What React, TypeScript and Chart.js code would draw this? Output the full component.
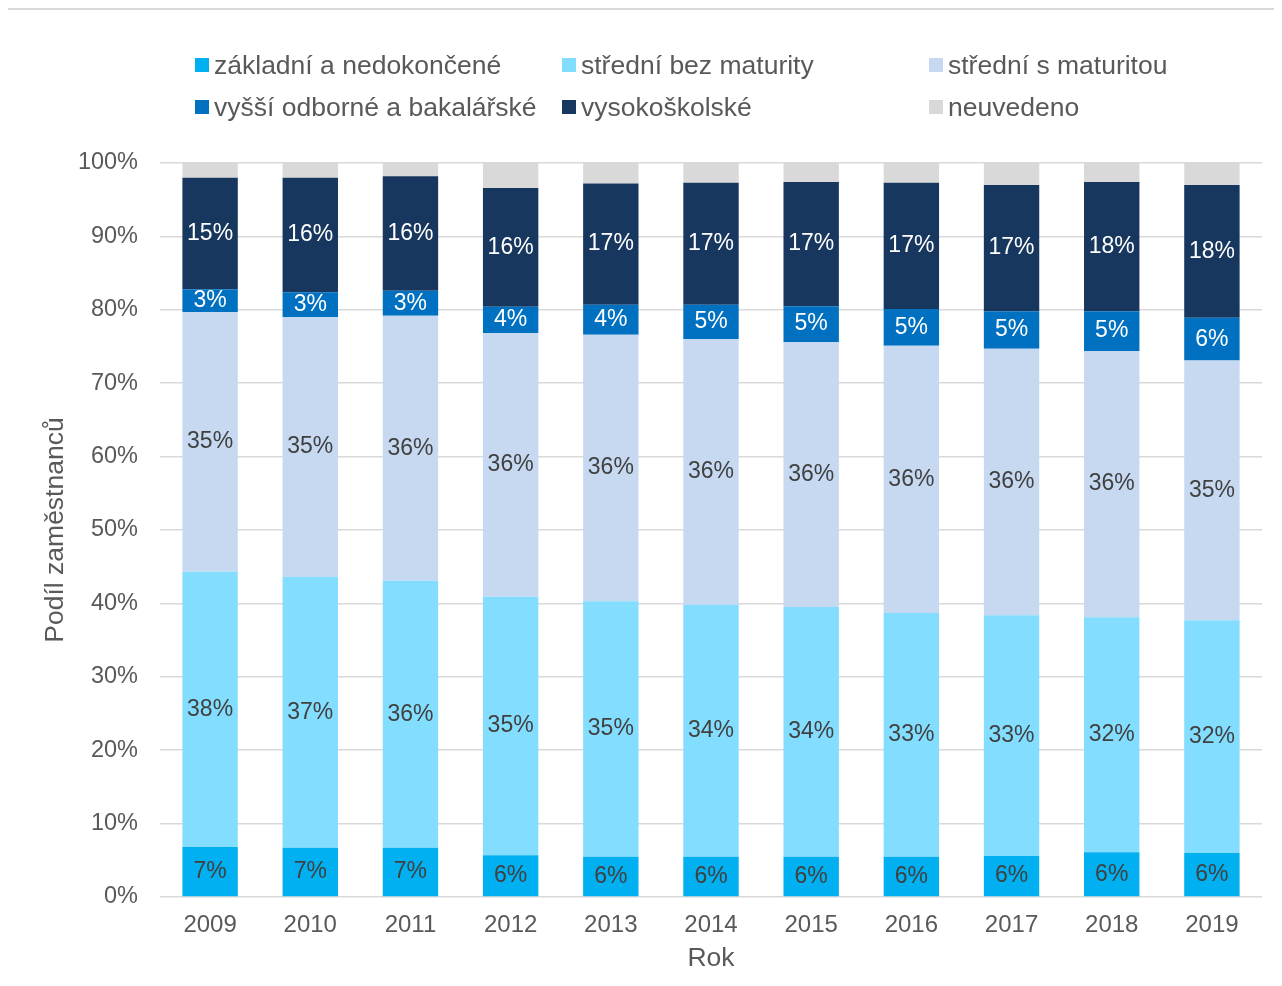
import React, { useEffect, useRef } from 'react';
import { Chart, registerables } from 'chart.js';

Chart.register(...registerables);

const FONT = '"Liberation Sans", Arial, sans-serif';

const years = ['2009', '2010', '2011', '2012', '2013', '2014', '2015', '2016', '2017', '2018', '2019'];
const zakladni = [6.8, 6.7, 6.7, 5.7, 5.5, 5.5, 5.5, 5.5, 5.6, 6.1, 6.0];
const bezMaturity = [37.5, 36.9, 36.4, 35.2, 34.8, 34.3, 34.0, 33.2, 32.8, 32.0, 31.7];
const sMaturitou = [35.4, 35.4, 36.1, 35.9, 36.3, 36.2, 36.1, 36.4, 36.3, 36.3, 35.4];
const vyssiOdborne = [3.1, 3.4, 3.4, 3.6, 4.1, 4.7, 4.9, 5.0, 5.1, 5.4, 5.8];
const vysokoskolske = [15.2, 15.6, 15.6, 16.2, 16.5, 16.6, 16.9, 17.2, 17.2, 17.6, 18.1];
const neuvedeno = [2.0, 2.0, 1.8, 3.4, 2.8, 2.7, 2.6, 2.7, 3.0, 2.6, 3.0];
const yTicks = [0, 10, 20, 30, 40, 50, 60, 70, 80, 90, 100];

const seriesNames = [
  'základní a nedokončené',
  'střední bez maturity',
  'střední s maturitou',
  'vyšší odborné a bakalářské',
  'vysokoškolské',
  'neuvedeno',
];
const seriesColors = ['#00B0F0', '#83DDFF', '#C6D9F1', '#0070C0', '#17375E', '#D9D9D9'];
const labelColors = ['#404040', '#404040', '#404040', '#FFFFFF', '#FFFFFF', null];

const labelPlugin = {
  id: 'segLabels',
  afterDatasetsDraw(chart: any) {
    const ctx = chart.ctx;
    ctx.save();
    ctx.font = `23px ${FONT}`;
    ctx.textAlign = 'center';
    ctx.textBaseline = 'middle';
    chart.data.datasets.forEach((ds: any, i: number) => {
      const col = labelColors[i];
      if (!col) return;
      const meta = chart.getDatasetMeta(i);
      meta.data.forEach((el: any, j: number) => {
        const v = ds.data[j] as number;
        const p = el.getProps(['x', 'y', 'base'], true);
        ctx.fillStyle = col;
        ctx.fillText(Math.round(v) + '%', p.x, (p.y + p.base) / 2);
      });
    });
    ctx.restore();
  },
};

const legendCols = [187, 554, 921];
const legendRows = [55, 97];

export default function App() {
  const ref = useRef<HTMLCanvasElement | null>(null);

  useEffect(() => {
    if (!ref.current) return;
    const dataArrays = [zakladni, bezMaturity, sMaturitou, vyssiOdborne, vysokoskolske, neuvedeno];
    const chart = new Chart(ref.current, {
      type: 'bar',
      data: {
        labels: years,
        datasets: dataArrays.map((d, i) => ({
          label: seriesNames[i],
          data: d,
          backgroundColor: seriesColors[i],
          borderWidth: 0,
          barPercentage: 0.553,
          categoryPercentage: 1,
        })),
      },
      options: {
        responsive: false,
        animation: false,
        devicePixelRatio: 1,
        layout: { padding: { left: 0, right: 14, top: 153, bottom: 0 } },
        plugins: {
          legend: { display: false },
          tooltip: { enabled: false },
        },
        scales: {
          x: {
            stacked: true,
            grid: { display: false, drawTicks: false },
            border: { display: false },
            ticks: { color: '#595959', font: { family: FONT, size: 24 }, padding: 14 },
            title: {
              display: true,
              text: 'Rok',
              color: '#595959',
              font: { family: FONT, size: 26.5 },
              padding: { top: 0, bottom: 1 },
            },
            afterFit: (s: any) => {
              s.height = 79;
            },
          },
          y: {
            stacked: true,
            min: 0,
            max: 100,
            grid: { color: '#D9D9D9', lineWidth: 1.5, drawTicks: false },
            border: { display: false },
            ticks: {
              stepSize: 10,
              color: '#595959',
              font: { family: FONT, size: 23.5 },
              padding: 22,
              callback: (v: any) => (yTicks.includes(Number(v)) ? v + '%' : ''),
            },
            title: {
              display: true,
              text: 'Podíl zaměstnanců',
              color: '#595959',
              font: { family: FONT, size: 26.5 },
              padding: { top: 32, bottom: 0 },
            },
            afterFit: (s: any) => {
              s.width = 152;
            },
          },
        },
      },
      plugins: [labelPlugin],
    });
    return () => chart.destroy();
  }, []);

  const legendItems = seriesNames.map((name, i) => {
    const col = i % 3;
    const row = Math.floor(i / 3);
    return (
      <div
        key={name}
        style={{
          position: 'absolute',
          left: legendCols[col],
          top: legendRows[row] - 20,
          height: 40,
          display: 'flex',
          alignItems: 'center',
          whiteSpace: 'nowrap',
          fontFamily: FONT,
          fontSize: 26.5,
          color: '#595959',
        }}
      >
        <span
          style={{
            display: 'inline-block',
            width: 14,
            height: 14,
            background: seriesColors[i],
            marginRight: 5,
          }}
        />
        <span>{name}</span>
      </div>
    );
  });

  return (
    <div
      style={{
        position: 'relative',
        width: 1270,
        height: 968,
        marginLeft: -2,
        borderLeft: '2px solid #D9D9D9',
        borderTop: '2px solid #D9D9D9',
        boxSizing: 'border-box',
        overflow: 'hidden',
      }}
    >
      <canvas
        ref={ref}
        width={1268}
        height={966}
        style={{ position: 'absolute', left: 0, top: 0, width: 1268, height: 966 }}
      />
      {legendItems}
    </div>
  );
}
